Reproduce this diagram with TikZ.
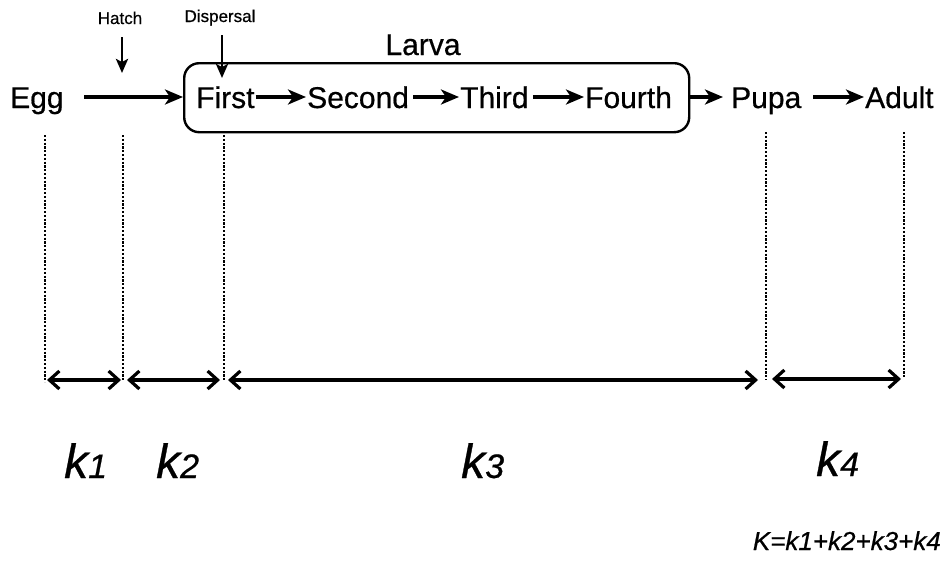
\documentclass[tikz,border=0pt]{standalone}
\usepackage{fontspec}
\setmainfont{Liberation Sans}[FakeBold=0.6]
\usetikzlibrary{arrows.meta}
\begin{document}
\begin{tikzpicture}[x=1pt,y=-1pt,
  lbl/.style={anchor=base west,inner sep=0pt,font=\fontsize{30}{30}\selectfont},
  small/.style={anchor=base,inner sep=0pt,font=\fontsize{17}{17}\selectfont},
  kl/.style={anchor=base west,inner sep=0pt,font=\fontsize{48}{48}\selectfont\itshape},
  flow/.style={line width=3.5pt,-{Stealth[length=18pt,width=15pt,inset=5pt]}},
  down/.style={line width=2.8pt,-{Stealth[length=14pt,width=12pt,inset=3pt]}},
  vline/.style={line width=2.3pt,dash pattern=on 2.2pt off 1.6pt},
  span/.style={line width=3.2pt,{Straight Barb[length=10pt,width=18pt,line width=3.2pt]}-{Straight Barb[length=10pt,width=18pt,line width=3.2pt]}}
]
\useasboundingbox (0,0) rectangle (943,562);
% main row
\node[lbl] (egg) at (10,108) {Egg};
\node[lbl] (first) at (196,108) {First};
\node[lbl] (second) at (307,108) {Second};
\node[lbl] (third) at (460,108) {Third};
\node[lbl] (fourth) at (585,108) {Fourth};
\node[lbl] (pupa) at (731,108) {Pupa};
\node[lbl] (adult) at (865,108) {Adult};
% larva box
\node[draw,line width=2.4pt,rounded corners=15pt,inner sep=0pt,minimum width=505pt,minimum height=69pt,anchor=north west] (box) at (183,62) {};
\node[anchor=base,inner sep=0pt,font=\fontsize{30}{30}\selectfont] (larva) at (423,55) {Larva};
% arrows
\coordinate (e1) at (84,97);
\draw[flow] (e1) -- (box.west |- e1);
\draw[flow] ([xshift=1pt,yshift=11pt]first.base east) -- ([xshift=-1pt,yshift=11pt]second.base west);
\draw[flow] ([xshift=4pt,yshift=11pt]second.base east) -- ([xshift=-1pt,yshift=11pt]third.base west);
\draw[flow] ([xshift=4pt,yshift=11pt]third.base east) -- ([xshift=-1pt,yshift=11pt]fourth.base west);
\draw[flow] (box.east |- e1) -- ([xshift=-8pt,yshift=11pt]pupa.base west);
\draw[flow] ([xshift=12pt,yshift=11pt]pupa.base east) -- ([xshift=-1pt,yshift=11pt]adult.base west);
% hatch / dispersal
\node[small] (hatch) at (120,24) {Hatch};
\node[small] (disp) at (220,22) {Dispersal};
\coordinate (h2) at (122,73);
\coordinate (d2) at (222,78);
\draw[down] (122,37) -- (h2);
\draw[down] (222,35) -- (d2);
% vertical dotted lines
\coordinate (v1t) at (45,135); \coordinate (v1b) at (45,382);
\coordinate (v2t) at (123,135); \coordinate (v2b) at (123,380);
\coordinate (v3t) at (224,135); \coordinate (v3b) at (224,380);
\coordinate (v4t) at (766,132); \coordinate (v4b) at (766,380);
\coordinate (v5t) at (904,132); \coordinate (v5b) at (904,378);
\foreach \v in {v1,v2,v3,v4,v5} \draw[vline] (\v t) -- (\v b);
% spans
\draw[span] (47,380) -- (121,380);
\draw[span] (127,380) -- (220,380);
\draw[span] (228,380) -- (758,380);
\draw[span] (772,379) -- (901,379);
% k labels
\node[kl] (k1) at (64,478) {k{\fontsize{34}{34}\selectfont 1}};
\node[kl] (k2) at (156,478) {k{\fontsize{34}{34}\selectfont 2}};
\node[kl] (k3) at (461,478) {k{\fontsize{34}{34}\selectfont 3}};
\node[kl] (k4) at (816,476) {k{\fontsize{34}{34}\selectfont 4}};
\node[anchor=base east,inner sep=0pt,font=\fontsize{26}{26}\selectfont\itshape] (ksum) at (941,550) {K=k1+k2+k3+k4};
\end{tikzpicture}
\end{document}
